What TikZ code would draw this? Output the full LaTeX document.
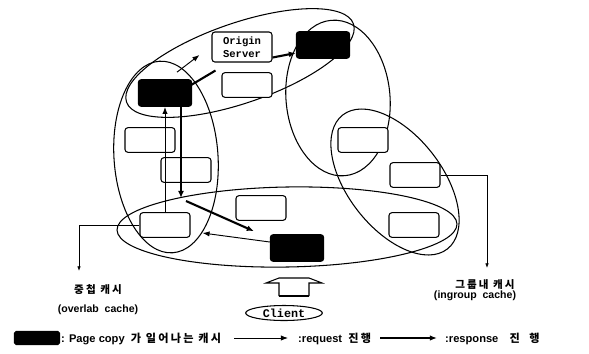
\documentclass[tikz,border=0pt]{standalone}
\usepackage{fontspec}
\setmainfont{Liberation Sans}
\setmonofont{Liberation Mono}
\newfontfamily\kr[LetterSpace=20]{Noto Sans CJK KR}
\usepackage{tikz}
\usetikzlibrary{positioning}
\usetikzlibrary{calc}
\usetikzlibrary{shapes.geometric}
\usetikzlibrary{arrows.meta}
\tikzset{
    cache/.style = {draw, fill=white, line width=0.9pt, rounded corners=2.5pt, minimum width=1.5cm, minimum height=0.74cm, inner sep=0},
    copy cache/.style = {cache, fill=black, minimum width=1.6cm, minimum height=0.8cm},
    group/.style = {line width=0.9pt},
    req/.style = {-{Latex[length=6pt,width=4.5pt]}, line width=0.8pt},
    resp/.style = {-{Latex[length=6pt,width=5pt]}, line width=1.8pt},
    pointer/.style = {-{Latex[length=4pt,width=3pt]}, line width=0.6pt},
    label text/.style = {font=\bfseries\fontsize{9}{10}\selectfont, inner sep=0},
    legend text/.style = {font=\bfseries\fontsize{9.5}{11}\selectfont, inner sep=0, anchor=west},
    client/.style = {ellipse, draw, line width=0.9pt, minimum width=2.3cm, minimum height=0.45cm, inner sep=0, font=\ttfamily\bfseries\fontsize{10}{11}\selectfont}
}
\begin{document}
\begin{tikzpicture}[x=0.03cm, y=-0.03cm]
    \useasboundingbox (0,0) rectangle (589,353);
    % cache groups
    \draw[group, rotate around={19:(240,63)}] (240,63) ellipse (120 and 40);
    \draw[group, rotate around={4:(166,157)}] (166,157) ellipse (52 and 96);
    \draw[group, rotate around={5:(338,98)}] (338,98) ellipse (52 and 78);
    \draw[group, rotate around={-52:(395,182)}] (395,182) ellipse (85 and 47);
    \draw[group, rotate around={1:(287,227)}] (287,227) ellipse (170 and 40);
    % caches
    \node[cache, minimum width=1.8cm, minimum height=0.9cm, font=\ttfamily\bfseries\fontsize{9}{11}\selectfont, align=center] (origin) at (242,47) {Origin\\Server};
    \node[copy cache] (copyTR) at (323,45) {};
    \node[copy cache] (copyTL) at (165,93) {};
    \node[cache] (c1) at (247,85) {};
    \node[cache] (c2) at (150,140) {};
    \node[cache] (c3) at (186,170) {};
    \node[cache] (c4) at (165,225) {};
    \node[cache] (c5) at (261,208) {};
    \node[copy cache] (copyB) at (297,248) {};
    \node[cache] (c6) at (363,140) {};
    \node[cache] (c7) at (415,175) {};
    \node[cache] (c8) at (414,225) {};
    % request / response
    \coordinate (hub) at (181,198);
    \draw[req] ([shift={(0,-6)}]copyB.west) -- ([shift={(12,8)}]c4.east);
    \draw[req] (c4.north) -- (copyTL.south);
    \draw[req] ([shift={(12,-7)}]copyTL.north) -- ([shift={(-12,8)}]origin.west);
    \draw[resp] ([shift={(4,8)}]origin.south west) -- ([shift={(-8,10)}]copyTL.north east);
    \draw[resp] ([shift={(0,-5)}]origin.south east) -- ([shift={(0,8)}]copyTR.west);
    \draw[resp] (copyTL.south -| hub) -- (hub);
    \draw[resp] ([shift={(5,3)}]hub) -- ([shift={(-16,-3)}]copyB.north west);
    % group labels
    \coordinate (overlabEnd) at (79,271);
    \coordinate (ingroupEnd) at (487,268);
    \draw[pointer] (c4.west) -| (overlabEnd);
    \draw[pointer] (c7.east) -| (ingroupEnd);
    \node[label text] (overlab) at (98,290) {\kr 중첩 캐시};
    \node[label text] (overlabEn) at (98,310) {(overlab\ \ cache)};
    \node[label text] (ingroup) at (485,285) {\kr 그룹내 캐시};
    \node[label text] (ingroupEn) at (475,296) {(ingroup\ \ cache)};
    % client
    \node[client] (client) at (284,313) {Client};
    \draw[line width=0.9pt, fill=white] (279,296) -- (279,283) -- (266,283) -- (279,278) -- (309,278) -- (322,283) -- (309,283) -- (309,296);
    \draw[line width=2.2pt] (279,296) -- (309,296);
    % legend
    \node[copy cache, minimum width=1.35cm, minimum height=0.4cm, rounded corners=1.5pt] (legCopy) at (37,338) {};
    \node[legend text] (legCopyText) at (61,339) {: Page copy\ \ {\kr 가\ 일어나는\ 캐시}};
    \node[legend text] (legReq) at (298,339) {:request\ \ {\kr 진행}};
    \node[legend text] (legResp) at (445,339) {:response\quad{\kr 진\ \ 행}};
    \coordinate (reqStart) at (234,338);
    \coordinate (respStart) at (380,338);
    \draw[req] (reqStart) -- ([shift={(-10,-1)}]legReq.west);
    \draw[req, line width=1pt] (respStart) -- ([shift={(-8,-1)}]legResp.west);
\end{tikzpicture}
\end{document}
